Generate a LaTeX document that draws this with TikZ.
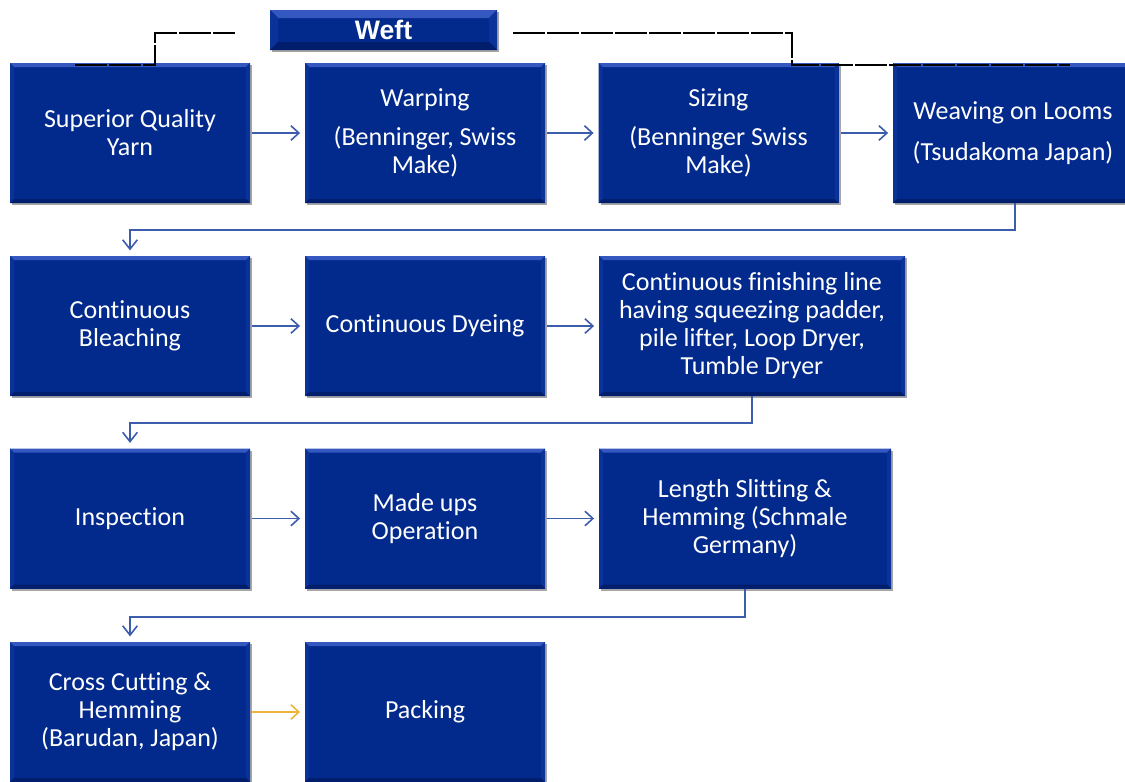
\documentclass[tikz,border=0pt]{standalone}
\usepackage{fontspec}
\setmainfont[Ligatures=NoCommon]{Carlito}
\newfontfamily\weftfont{Liberation Sans}
\usetikzlibrary{arrows.meta,shadows}
\definecolor{boxblue}{RGB}{2,42,140}
\definecolor{bevtop}{RGB}{52,88,192}
\definecolor{bevside}{RGB}{10,50,152}
\definecolor{bevbot}{RGB}{0,30,108}
\definecolor{arrblue}{RGB}{60,92,172}
\definecolor{arrgold}{RGB}{240,180,60}
\tikzset{
  bevel/.style={path picture={
    \coordinate (pNW) at (path picture bounding box.north west);
    \coordinate (pNE) at (path picture bounding box.north east);
    \coordinate (pSW) at (path picture bounding box.south west);
    \coordinate (pSE) at (path picture bounding box.south east);
    \fill[bevtop] (pNW) -- (pNE) -- ([xshift=-#1,yshift=-#1]pNE) -- ([xshift=#1,yshift=-#1]pNW) -- cycle;
    \fill[bevside] (pNW) -- ([xshift=#1,yshift=-#1]pNW) -- ([xshift=#1,yshift=#1]pSW) -- (pSW) -- cycle;
    \fill[bevside] (pNE) -- ([xshift=-#1,yshift=-#1]pNE) -- ([xshift=-#1,yshift=#1]pSE) -- (pSE) -- cycle;
    \fill[bevbot] (pSW) -- ([xshift=#1,yshift=#1]pSW) -- ([xshift=-#1,yshift=#1]pSE) -- (pSE) -- cycle;
  }},
  procbox/.style={fill=boxblue, bevel=3pt, text=white, align=center,
    font=\fontsize{19.5}{21}\selectfont, inner sep=0pt,
    minimum height=105pt, minimum width=180pt,
    drop shadow={shadow xshift=1.5pt, shadow yshift=-1.8pt, opacity=0.35, fill=black}},
  weftbox/.style={fill=boxblue, bevel=6pt, text=white,
    font=\weftfont\bfseries\fontsize{20}{22}\selectfont, inner sep=0pt,
    minimum height=30pt, minimum width=170.25pt,
    drop shadow={shadow xshift=1.5pt, shadow yshift=-1.8pt, opacity=0.35, fill=black}},
  arr/.style={draw=arrblue, line width=1.2pt, -{Straight Barb[length=6pt,width=11pt,line width=1.2pt]}},
  arrg/.style={draw=arrgold, line width=1.2pt, -{Straight Barb[length=6pt,width=11pt,line width=1.2pt]}},
  elb/.style={draw=arrblue, line width=1.2pt, -{Straight Barb[length=7pt,width=11pt,line width=1.2pt]}},
  weftline/.style={draw=black, line width=1.3pt, dash pattern=on 24pt off 1.5pt}
}
\begin{document}
\begin{tikzpicture}[x=0.75pt,y=-0.75pt]
\clip (0,0) rectangle (1125,782);
\fill[white] (0,0) rectangle (1125,782);

% row 1
\node[procbox] (b1) at (130,133) {Superior Quality\\Yarn};
\node[procbox] (b2) at (425,133) {Warping\\[8pt](Benninger, Swiss\\Make)};
\node[procbox] (b3) at (718.5,133) {Sizing\\[8pt](Benninger Swiss\\Make)};
\node[procbox] (b4) at (1013,133) {Weaving on Looms\\[10pt](Tsudakoma Japan)};

% weft
\node[weftbox] (weft) at (383.5,30) {Weft};

% row 2
\node[procbox] (b5) at (130,326) {Continuous\\Bleaching};
\node[procbox] (b6) at (425,326) {Continuous Dyeing};
\node[procbox, minimum width=229.5pt] (b7) at (752,326) {Continuous finishing line\\having squeezing padder,\\pile lifter, Loop Dryer,\\Tumble Dryer};

% row 3
\node[procbox] (b8) at (130,518.5) {Inspection};
\node[procbox] (b9) at (425,518.5) {Made ups\\Operation};
\node[procbox, minimum width=219pt] (b10) at (745,518.5) {Length Slitting \&\\Hemming (Schmale\\Germany)};

% row 4
\node[procbox] (b11) at (130,712) {Cross Cutting \&\\Hemming\\(Barudan, Japan)};
\node[procbox] (b12) at (425,712) {Packing};

% horizontal arrows
\draw[arr] ([xshift=1.5pt]b1.east) -- ([xshift=-3.5pt]b2.west);
\draw[arr] ([xshift=1.5pt]b2.east) -- ([xshift=-3.5pt]b3.west);
\draw[arr] ([xshift=1.5pt]b3.east) -- ([xshift=-3.5pt]b4.west);
\draw[arr] ([xshift=1.5pt]b5.east) -- ([xshift=-3.5pt]b6.west);
\draw[arr] ([xshift=1.5pt]b6.east) -- ([xshift=-3.5pt]b7.west);
\draw[arr] ([xshift=1.5pt]b8.east) -- ([xshift=-3.5pt]b9.west);
\draw[arr] ([xshift=1.5pt]b9.east) -- ([xshift=-3.5pt]b10.west);
\draw[arrg] ([xshift=1.5pt]b11.east) -- ([xshift=-3.5pt]b12.west);

% elbow connectors
\coordinate (t1) at (1015,230);
\draw[elb] (b4.south -| t1) -- (t1) -| ([yshift=4pt]b5.north);
\coordinate (t2) at (752,423);
\draw[elb] (b7.south) -- (t2) -| ([yshift=4pt]b8.north);
\coordinate (t3) at (745,617);
\draw[elb] (b10.south) -- (t3) -| ([yshift=4pt]b11.north);

% weft lines
\coordinate (wl1) at (75,65);
\coordinate (wl2) at (155,65);
\coordinate (wl3) at (155,33);
\coordinate (wl4) at (235,33);
\draw[weftline] (wl1) -- (wl2) -- (wl3) -- (wl4);
\coordinate (wr1) at (513,33);
\coordinate (wr2) at (792,33);
\coordinate (wr3) at (792,65);
\coordinate (wr4) at (1070,65);
\draw[weftline] (wr1) -- (wr2) -- (wr3) -- (wr4);
\end{tikzpicture}
\end{document}
